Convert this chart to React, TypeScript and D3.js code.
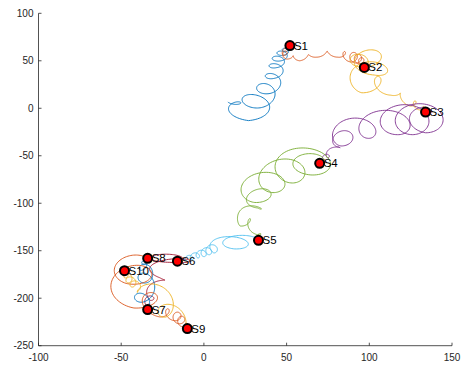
import React from "react";
import * as d3 from "d3";

// markers (data units)
const stations = ["S1", "S2", "S3", "S4", "S5", "S6", "S7", "S8", "S9", "S10"];
const stationX = [52, 97, 134, 70, 33, -16, -34, -34, -10, -48];
const stationY = [66, 43, -4, -58, -139, -161, -212, -158, -232, -171];

// each leg: loop knots [x, y, rx, ry]
const leg1 = [[14.5, 6.6, 0, 0], [27, -3, 12, 10], [34, 11, 8, 10.5], [40, 23, 6, 7.4], [43, 37, 4.8, 5.3], [44, 47, 4.2, 4.2], [46, 54, 4.2, 4.2], [48, 59, 3, 3.2], [50, 62, 1.8, 2.1], [52, 66, 0, 0]];
const leg2 = [[52, 66, 0, 0], [48, 59, 1.8, 3.2], [50, 55, 1.8, 3.2], [58, 51, 0.6, 1], [68, 57, 1.8, 3.2], [81, 57, 1.8, 3.2], [89, 54, 3, 5.3], [92, 53, 3, 5.3], [94, 51, 2.4, 4.2], [96, 48, 1.8, 3.2], [97, 43, 0, 0]];
const leg3 = [[97, 43, 0, 0], [95.5, 56, 9.7, 12.6], [103, 44.5, 10.3, 9.5], [95.5, 30, 8.5, 13.7], [113, 18, 2.4, 4.2], [124.5, 5.6, 1.8, 3.2], [130.6, 2.4, 2.4, 4.2], [134, -4, 0, 0]];
const leg4 = [[134, -4, 0, 0], [134, -10, 12.7, 15.8], [126, -12, 12.1, 15.8], [117, -12, 12.7, 15.8], [99, -20, 8.5, 11.6], [83, -26, 9, 13.7], [81.6, -38.7, 2.4, 2.1], [74.4, -49, 1.8, 3], [73, -54, 1.8, 3], [70, -58, 0, 0]];
const leg5 = [[70, -58, 0, 0], [64.7, -54.4, 15.7, 15.8], [52.6, -61.8, 11.5, 16.8], [41, -75.5, 10.3, 13.2], [30.8, -86, 10.9, 13.2], [32.6, -101.8, 4.8, 3.2], [21.8, -115.5, 3.6, 8.4], [32.6, -130, 2.4, 3.2], [33, -139, 0, 0]];
const leg6 = [[33, -139, 0, 0], [18.7, -138.6, 13.3, 9.5], [6, -147, 3, 5.3], [3, -150, 2.4, 4.2], [0, -152, 2.4, 4.2], [-3.6, -154.4, 1.8, 3.2], [-7.3, -156.5, 1.8, 3.2], [-11, -158.6, 1.2, 2.1], [-16, -161, 0, 0]];
const leg7 = [[-16, -161, 0, 0], [-20.6, -154.8, 16.3, 7.4], [-26.6, -175.3, 4.8, 3.2], [-32.6, -198, 3, 4.2], [-34, -205, 1.8, 3.2], [-34, -212, 0, 0]];
const leg8 = [[-34, -212, 0, 0], [-37, -192.6, 7.3, 11.6], [-34, -175, 4.2, 8.4], [-37, -166, 2.4, 4.2], [-35.7, -162, 1.2, 2.1], [-34, -158, 0, 0]];
const leg9 = [[-34, -158, 0, 0], [-46, -168, 13.9, 16.8], [-42.3, -195.6, 12.7, 14.7], [-26.6, -214.4, 3, 5.3], [-17.5, -218.4, 3, 5.3], [-15, -221.6, 3, 5.3], [-12.7, -226, 2.4, 4.2], [-10, -232, 0, 0]];
const leg10 = [[-10, -232, 0, 0], [-23, -203, 9.7, 16.8], [-40, -188, 2.4, 4.2], [-43, -184, 2.4, 4.2], [-45.3, -179.6, 2.4, 4.2], [-47, -175.4, 1.8, 3.2], [-48, -171, 0, 0]];

const legs = [leg1, leg2, leg3, leg4, leg5, leg6, leg7, leg8, leg9, leg10];
const colors = ["#0072BD", "#D95319", "#EDB120", "#7E2F8E", "#77AC30", "#4DBEEE", "#A2142F", "#0072BD", "#D95319", "#EDB120"];

const xTicks = [-100, -50, 0, 50, 100, 150];
const yTicks = [100, 50, 0, -50, -100, -150, -200, -250];

const W = 463;
const H = 370;
const font = "'Liberation Sans', Arial, sans-serif";
const axisColor = "#262626";

const x = d3.scaleLinear().domain([-100, 150]).range([38.5, 452]);
const y = d3.scaleLinear().domain([-250, 100]).range([345.7, 13.3]);

// one turn of the loop per knot interval
function coil(knots: number[][]): [number, number][] {
  const pts: [number, number][] = [];
  const steps = 72;
  for (let i = 0; i < knots.length - 1; i++) {
    const a = knots[i];
    const b = knots[i + 1];
    for (let s = 0; s < steps; s++) {
      const t = s / steps;
      const cx = a[0] + (b[0] - a[0]) * t;
      const cy = a[1] + (b[1] - a[1]) * t;
      const rx = a[2] + (b[2] - a[2]) * t;
      const ry = a[3] + (b[3] - a[3]) * t;
      const th = -Math.PI / 2 + 2 * Math.PI * t;
      pts.push([x(cx + rx * Math.cos(th)), y(cy + ry * Math.sin(th))]);
    }
  }
  const last = knots[knots.length - 1];
  pts.push([x(last[0]), y(last[1] - last[3])]);
  return pts;
}

const line = d3.line();

export default function App() {
  return (
    <div style={{ position: "absolute", left: 0, top: 0, background: "#fff" }}>
      <svg width={W} height={H} style={{ display: "block", fontFamily: font }}>
        <rect width={W} height={H} fill="#fff" />
        {legs.map((leg, i) => (
          <path key={i} d={line(coil(leg)) || ""} fill="none" stroke={colors[i]} strokeWidth={0.9} />
        ))}
        {stations.map((s, i) => (
          <g key={s}>
            <circle cx={x(stationX[i])} cy={y(stationY[i])} r={4.5} fill="#ff0000" stroke="#000" strokeWidth={2} />
            <text x={x(stationX[i]) + 4} y={y(stationY[i])} dy="0.35em" fontSize={11.5} fill="#000">
              {s}
            </text>
          </g>
        ))}
        {/* axes */}
        <line x1={x(-100)} x2={x(150)} y1={y(-250)} y2={y(-250)} stroke={axisColor} strokeWidth={0.8} />
        <line x1={x(-100)} x2={x(-100)} y1={y(-250)} y2={y(100)} stroke={axisColor} strokeWidth={0.8} />
        {xTicks.map((t) => (
          <g key={"x" + t}>
            <line x1={x(t)} x2={x(t)} y1={y(-250)} y2={y(-250) - 3} stroke={axisColor} strokeWidth={0.8} />
            <text x={x(t)} y={y(-250) + 15} textAnchor="middle" fontSize={10} fill={axisColor}>
              {t}
            </text>
          </g>
        ))}
        {yTicks.map((t) => (
          <g key={"y" + t}>
            <line x1={x(-100)} x2={x(-100) + 3} y1={y(t)} y2={y(t)} stroke={axisColor} strokeWidth={0.8} />
            <text x={x(-100) - 5} y={y(t)} dy="0.35em" textAnchor="end" fontSize={10} fill={axisColor}>
              {t}
            </text>
          </g>
        ))}
      </svg>
    </div>
  );
}
